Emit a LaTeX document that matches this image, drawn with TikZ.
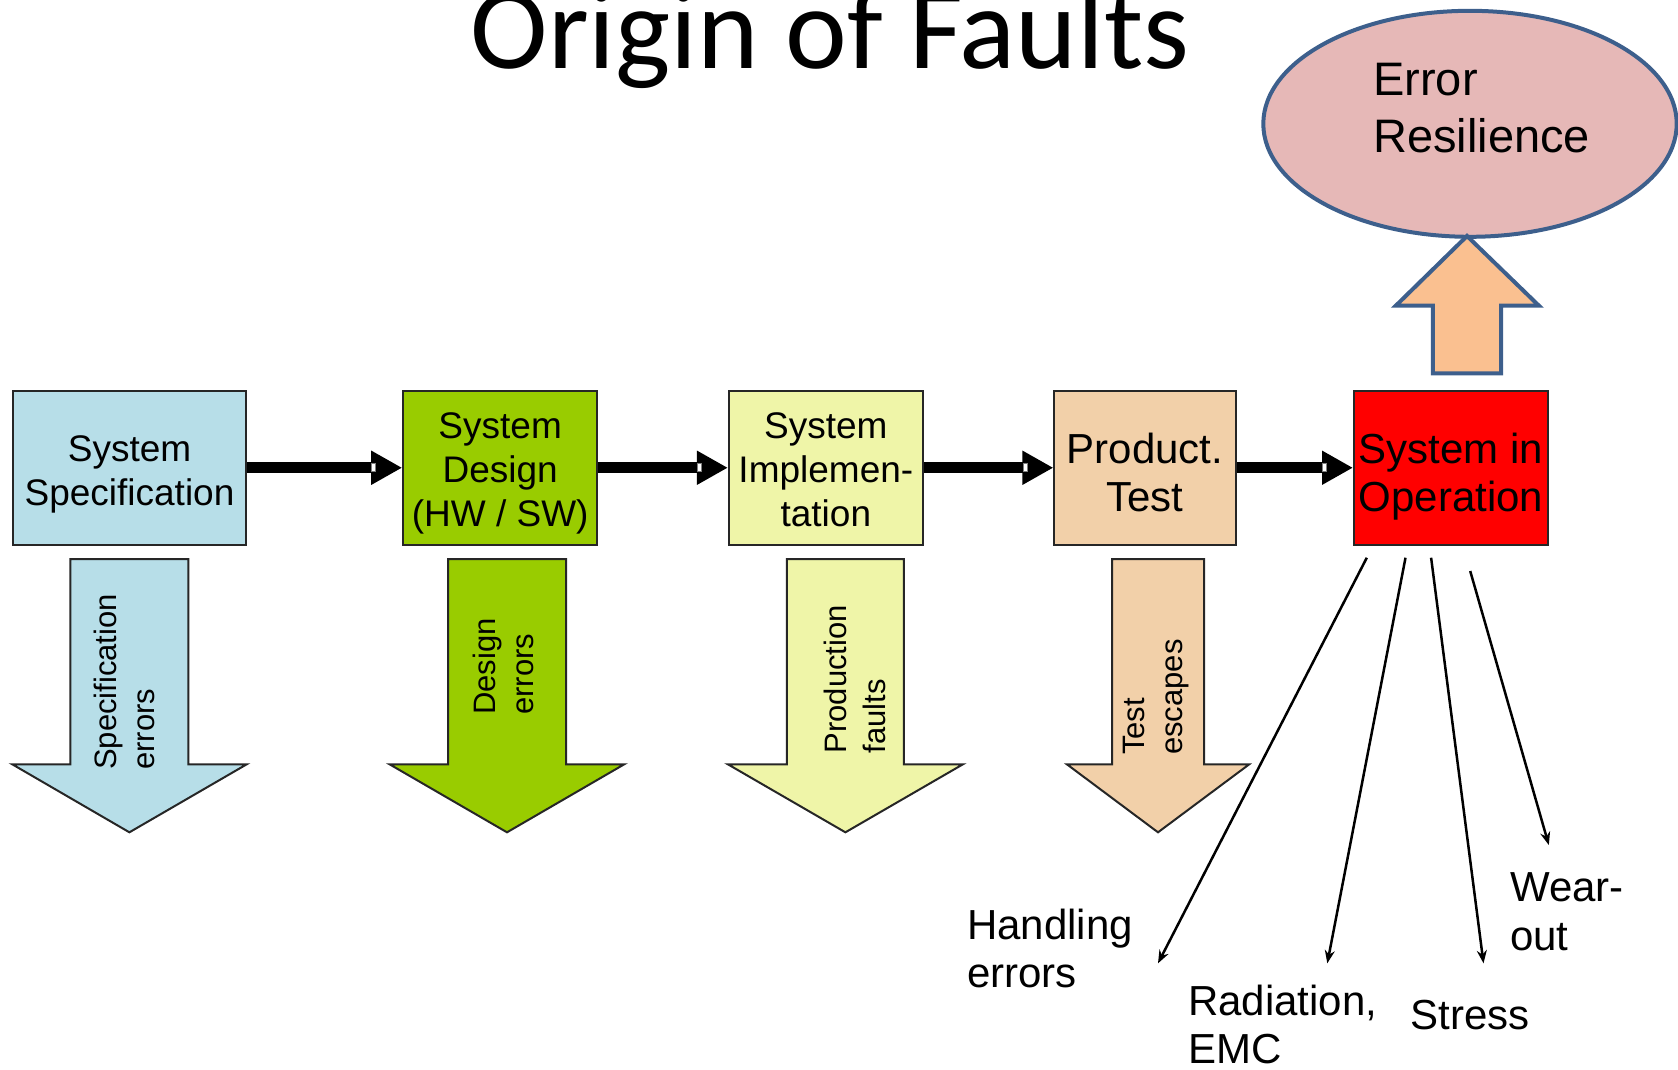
\documentclass[tikz,border=0pt]{standalone}
\usepackage{fontspec}
\setmainfont{Liberation Sans}
\newfontfamily\titlefont{Carlito}
\usetikzlibrary{arrows.meta,shapes.geometric}

\definecolor{specfill}{HTML}{B7DEE8}
\definecolor{designfill}{HTML}{99CC00}
\definecolor{implfill}{HTML}{EFF5A8}
\definecolor{testfill}{HTML}{F2D0A9}
\definecolor{opfill}{HTML}{FF0000}
\definecolor{resfill}{HTML}{E6B8B7}
\definecolor{resline}{HTML}{3D5F8C}
\definecolor{upfill}{HTML}{FAC090}
\definecolor{edge}{HTML}{262626}

\tikzset{
  stage/.style={draw=edge, line width=2pt, minimum height=154.5pt, inner sep=0pt},
  stagetext/.style={anchor=north, align=center, inner sep=0pt,
    font=\fontsize{37}{44}\selectfont},
  bigtext/.style={anchor=north, align=center, inner sep=0pt,
    font=\fontsize{42}{48.3}\selectfont},
  flow/.style={line width=11pt, -{Triangle[length=31pt,width=32pt]}},
  notch/.style={fill=white, draw=gray, line width=0.6pt},
  faultarrow/.style={draw=edge, line width=2pt, line join=miter},
  faulttext/.style={rotate=90, anchor=west, align=left, inner sep=0pt,
    font=\fontsize{31}{38.5}\selectfont},
  cause/.style={line width=2.5pt, -{Stealth[length=13pt,width=10pt]}},
  causetext/.style={anchor=north west, align=left, inner sep=0pt,
    font=\fontsize{42}{48.3}\selectfont},
}

\begin{document}
\begin{tikzpicture}[x=1pt,y=-1pt]
\useasboundingbox (0,0) rectangle (1678,1069);
\clip (0,0) rectangle (1678,1069);

% title
\node[anchor=base, inner sep=0pt, font=\titlefont\fontsize{117}{134}\selectfont]
  (title) at (830,68) {Origin of Faults};

% error resilience goal
\node[ellipse, draw=resline, fill=resfill, line width=4pt, inner sep=0pt,
  minimum width=413.4pt, minimum height=226pt] (res) at (1470,123.8) {};
\node[anchor=north west, align=left, inner sep=0pt,
  font=\fontsize{47}{57.3}\selectfont] (restext) at (1373,63) {Error\\Resilience};
\draw[draw=resline, fill=upfill, line width=4pt, line join=miter]
  (1432.8,373.3) -- (1432.8,305.7) -- (1395.8,305.7) -- (1467,236)
  -- (1538.9,305.7) -- (1501.2,305.7) -- (1501.2,373.3) -- cycle;

% life-cycle stages
\node[stage, fill=specfill,   minimum width=233.4pt] (spec)   at (129.5,467.75) {};
\node[stage, fill=designfill, minimum width=193.9pt] (design) at (500.15,467.75) {};
\node[stage, fill=implfill,   minimum width=193.9pt] (impl)   at (825.85,467.75) {};
\node[stage, fill=testfill,   minimum width=181.2pt] (test)   at (1145,467.75) {};
\node[stage, fill=opfill,     minimum width=194.2pt] (op)     at (1451.1,467.75) {};

\node[stagetext] (spectxt)   at (129.5,435.2)  {System\\Specification};
\node[stagetext] (designtxt) at (500.15,412.8) {System\\Design\\(HW / SW)};
\node[stagetext] (impltxt)   at (825.85,412.8) {System\\Implemen-\\tation};
\node[bigtext]   (testtxt)   at (1145,432.8)   {Product.\\Test};
\node[bigtext]   (optxt)     at (1451.1,432.8) {System in\\Operation};

\draw[flow] (spec) -- (design);
\draw[flow] (design) -- (impl);
\draw[flow] (impl) -- (test);
\draw[flow] (test) -- (op);
% small light gap where each shaft meets its head
\foreach \t in {design,impl,test,op}
  \draw[notch] ([xshift=-30.5pt,yshift=4pt]\t.west) rectangle ++(4,8);

% faults introduced at each stage
\draw[faultarrow, fill=specfill] (70.3,559) -- (188.3,559) -- (188.3,764.3)
  -- (246.7,764.3) -- (129.4,832.3) -- (12.3,764.3) -- (70.3,764.3) -- cycle;
\draw[faultarrow, fill=designfill] (448.1,559) -- (566,559) -- (566,764.3)
  -- (624.2,764.3) -- (507,832.3) -- (389.6,764.3) -- (448.1,764.3) -- cycle;
\draw[faultarrow, fill=implfill] (786.8,559) -- (903.9,559) -- (903.9,764.3)
  -- (962.9,764.3) -- (845.4,832.3) -- (727.9,764.3) -- (786.8,764.3) -- cycle;
\draw[faultarrow, fill=testfill] (1112,559) -- (1204,559) -- (1204,764.3)
  -- (1249.2,764.3) -- (1158,832.3) -- (1066.9,764.3) -- (1112,764.3) -- cycle;

\node[faulttext] (specerr)   at (124.5,770)  {Specification\\errors};
\node[faulttext] (designerr) at (503.4,715)  {Design\\errors};
\node[faulttext] (prodfault) at (854.9,753.5) {Production\\faults};
\node[faulttext] (testesc)   at (1156,755)   {Test\\escapes};

% faults arising in operation
\coordinate (h0) at (1366.8,557.7); \coordinate (h1) at (1158,963.3);
\coordinate (r0) at (1405.5,557.7); \coordinate (r1) at (1327.3,963.3);
\coordinate (s0) at (1431.1,557.7); \coordinate (s1) at (1483.5,963.3);
\coordinate (w0) at (1470.2,571);   \coordinate (w1) at (1548.8,845);
\draw[cause] (h0) -- (h1);
\draw[cause] (r0) -- (r1);
\draw[cause] (s0) -- (s1);
\draw[cause] (w0) -- (w1);

\node[causetext] (handling)  at (967,909)     {Handling\\errors};
\node[causetext] (radiation) at (1188,985)    {Radiation,\\EMC};
\node[causetext] (stress)    at (1410.5,999.5) {Stress};
\node[causetext] (wearout)   at (1510,872.8)  {Wear-\\out};
\end{tikzpicture}
\end{document}
